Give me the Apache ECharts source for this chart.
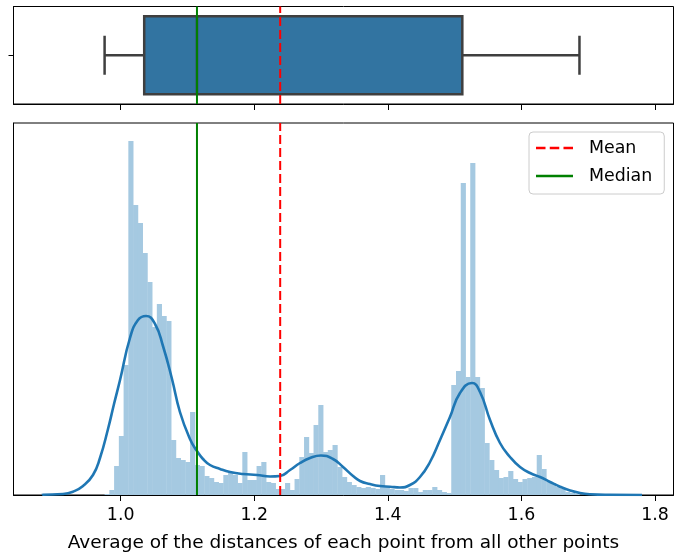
<!DOCTYPE html>
<html>
<head>
<meta charset="utf-8">
<script src="https://cdn.jsdelivr.net/npm/echarts@6.0.0/dist/echarts.min.js"></script>
<style>
	html, body { margin: 0; padding: 0; background: #fff; }
	#chart { width: 684px; height: 552px; }
</style>
</head>
<body>
<div id="chart"></div>
<script>
// summary of the distances (box plot)
var dataMin = 0.9759;
var dataMax = 1.6869;
var q1 = 1.0352;
var q3 = 1.5115;
var median = 1.1142;
var mean = 1.2388;

// histogram, 100 equal bins from dataMin to dataMax (relative density)
var histHeights = [
	1, 5, 29, 59, 130, 354, 290, 272, 242, 213,
	168, 191, 179, 174, 55, 37, 35, 33, 83, 30,
	29, 19, 17, 13, 12, 20, 22, 20, 12, 43,
	15, 15, 29, 33, 13, 12, 6, 6, 12, 5,
	16, 38, 58, 42, 70, 90, 43, 45, 50, 28,
	18, 13, 10, 8, 7, 8, 7, 6, 20, 8,
	6, 5, 5, 4, 7, 7, 3, 5, 5, 8,
	5, 3, 2, 110, 124, 312, 118, 332, 118, 107,
	52, 35, 25, 17, 18, 24, 16, 13, 16, 17,
	18, 40, 26, 13, 12, 8, 6, 3, 2, 1
];

// kde curve (same scale as the histogram)
var kdeX = [0.8822, 0.8837, 0.9136, 0.9286, 0.9436, 0.9585, 0.9690, 0.9810, 0.9900, 0.9990,
	1.0139, 1.0259, 1.0379, 1.0514, 1.0633, 1.0768, 1.0887, 1.1037, 1.1142, 1.1232,
	1.1337, 1.1487, 1.1637, 1.1831, 1.2041, 1.2236, 1.2385, 1.2535, 1.2685, 1.2835,
	1.2999, 1.3179, 1.3329, 1.3479, 1.3583, 1.3733, 1.3882, 1.4032, 1.4182, 1.4331,
	1.4481, 1.4631, 1.4781, 1.4930, 1.5080, 1.5260, 1.5380, 1.5530, 1.5679, 1.5829,
	1.5979, 1.6129, 1.6279, 1.6429, 1.6578, 1.6728, 1.6878, 1.7028, 1.7327, 1.7806];
var kdeY = [0, 0.3, 1, 3.3, 9, 20, 37, 66, 91, 115,
	157, 175, 179, 171, 149, 116, 83, 56, 44, 36,
	30, 26, 23, 21, 20, 18.5, 19, 25, 32, 37,
	39.5, 36, 28, 19, 14, 11, 9, 8.3, 7.5, 10,
	18, 33, 55, 78, 102, 112, 103, 75, 52, 38,
	28, 22, 18, 13, 8.3, 4.5, 2, 0.8, 0.2, 0];

var xTicks = [1.0, 1.2, 1.4, 1.6, 1.8];
var xRange = [0.8395, 1.8277];
var yMax = 372;

var font = 'DejaVu Sans';
var binW = (dataMax - dataMin) / histHeights.length;
var histData = histHeights.map(function (h, i) {
	return [dataMin + i * binW, dataMin + (i + 1) * binW, h];
});
var kdeData = kdeX.map(function (x, i) {
	return [x, kdeY[i]];
});

var myChart = echarts.init(document.getElementById('chart'));

function xAxisBase(gridIndex) {
	return {
		type: 'value',
		gridIndex: gridIndex,
		min: xRange[0],
		max: xRange[1],
		splitLine: { show: false },
		axisLine: { show: true, lineStyle: { color: '#000', width: 1 } },
		axisTick: { show: true, length: 6, customValues: xTicks, lineStyle: { color: '#000' } },
		axisLabel: { show: false }
	};
}

var bottomX = xAxisBase(1);
bottomX.axisLabel = {
	show: true,
	customValues: xTicks,
	margin: 12,
	color: '#000',
	fontFamily: font,
	fontSize: 17.4,
	formatter: function (v) { return v.toFixed(1); }
};
bottomX.name = 'Average of the distances of each point from all other points';
bottomX.nameLocation = 'middle';
bottomX.nameGap = 39;
bottomX.nameTextStyle = { color: '#000', fontFamily: font, fontSize: 18.5 };

var option = {
	animation: false,
	backgroundColor: '#fff',
	grid: [
		{ left: 13.5, right: 10.5, top: 6.5, height: 97.5, show: true, borderColor: '#000', borderWidth: 1, outerBoundsMode: 'none', containLabel: false },
		{ left: 13.5, right: 10.5, top: 123, height: 372, show: true, borderColor: '#000', borderWidth: 1, outerBoundsMode: 'none', containLabel: false }
	],
	xAxis: [xAxisBase(0), bottomX],
	yAxis: [
		{
			type: 'value', gridIndex: 0, min: 0, max: 1,
			splitLine: { show: false },
			axisLine: { show: true, lineStyle: { color: '#000' } },
			axisTick: { show: true, length: 5, customValues: [0.5], lineStyle: { color: '#000' } },
			axisLabel: { show: false }
		},
		{
			type: 'value', gridIndex: 1, min: 0, max: yMax,
			splitLine: { show: false },
			axisLine: { show: true, lineStyle: { color: '#000' } },
			axisTick: { show: false },
			axisLabel: { show: false }
		}
	],
	legend: {
		data: [
			{ name: 'Mean', icon: 'path://M0,0H9V1H0ZM13,0H22V1H13ZM26,0H35V1H26Z', itemStyle: { color: '#ff0000' } },
			{ name: 'Median', icon: 'rect', itemStyle: { color: '#008000' } }
		],
		orient: 'vertical',
		align: 'left',
		left: 529,
		top: 132,
		itemWidth: 37,
		itemHeight: 2.5,
		itemGap: 8,
		symbolKeepAspect: false,
		padding: [6, 12, 8, 7],
		borderColor: '#cccccc',
		borderWidth: 1,
		borderRadius: 4,
		backgroundColor: '#fff',
		selectedMode: false,
		itemStyle: { borderWidth: 0 },
		textStyle: { color: '#000', fontFamily: font, fontSize: 17.4, lineHeight: 20, padding: [0, 0, 0, 11] }
	},
	series: [
		{
			name: 'box',
			type: 'custom',
			xAxisIndex: 0,
			yAxisIndex: 0,
			silent: true,
			z: 2,
			encode: { x: [0, 1, 2, 3, 4] },
			data: [[dataMin, q1, median, q3, dataMax]],
			renderItem: function (params, api) {
				var lo = api.value(0), a = api.value(1), md = api.value(2), b = api.value(3), hi = api.value(4);
				var tl = api.coord([a, 0.9]);
				var br = api.coord([b, 0.1]);
				var stroke = { stroke: '#3f3f3f', lineWidth: 2.5 };
				function seg(x1, y1, x2, y2) {
					var p = api.coord([x1, y1]), q = api.coord([x2, y2]);
					return { type: 'line', shape: { x1: p[0], y1: p[1], x2: q[0], y2: q[1] }, style: stroke };
				}
				return {
					type: 'group',
					children: [
						seg(lo, 0.5, a, 0.5),
						seg(b, 0.5, hi, 0.5),
						seg(lo, 0.3, lo, 0.7),
						seg(hi, 0.3, hi, 0.7),
						{
							type: 'rect',
							shape: { x: tl[0], y: tl[1], width: br[0] - tl[0], height: br[1] - tl[1] },
							style: { fill: '#3274a1', stroke: '#3f3f3f', lineWidth: 2.5 }
						},
						seg(md, 0.1, md, 0.9)
					]
				};
			}
		},
		{
			name: 'hist',
			type: 'custom',
			xAxisIndex: 1,
			yAxisIndex: 1,
			silent: true,
			z: 2,
			encode: { x: [0, 1], y: 2 },
			data: histData,
			renderItem: function (params, api) {
				var p0 = api.coord([api.value(0), api.value(2)]);
				var p1 = api.coord([api.value(1), 0]);
				return {
					type: 'rect',
					shape: { x: p0[0], y: p0[1], width: p1[0] - p0[0] + 0.4, height: p1[1] - p0[1] },
					style: { fill: '#a5c9e1' }
				};
			}
		},
		{
			name: 'kde',
			type: 'line',
			xAxisIndex: 1,
			yAxisIndex: 1,
			data: kdeData,
			smooth: 0.5,
			symbol: 'none',
			silent: true,
			z: 3,
			lineStyle: { color: '#1f77b4', width: 2.6 }
		},
		{
			name: 'Mean',
			type: 'line',
			xAxisIndex: 1,
			yAxisIndex: 1,
			data: [[mean, 0], [mean, yMax]],
			symbol: 'none',
			z: 4,
			itemStyle: { color: '#ff0000' },
			lineStyle: { color: '#ff0000', width: 2, type: [9, 4] }
		},
		{
			name: 'Median',
			type: 'line',
			xAxisIndex: 1,
			yAxisIndex: 1,
			data: [[median, 0], [median, yMax]],
			symbol: 'none',
			z: 4,
			itemStyle: { color: '#008000' },
			lineStyle: { color: '#008000', width: 2 }
		},
		{
			name: 'Mean',
			type: 'line',
			xAxisIndex: 0,
			yAxisIndex: 0,
			data: [[mean, 0], [mean, 1]],
			symbol: 'none',
			z: 4,
			itemStyle: { color: '#ff0000' },
			lineStyle: { color: '#ff0000', width: 2, type: [9, 4] }
		},
		{
			name: 'Median',
			type: 'line',
			xAxisIndex: 0,
			yAxisIndex: 0,
			data: [[median, 0], [median, 1]],
			symbol: 'none',
			z: 4,
			itemStyle: { color: '#008000' },
			lineStyle: { color: '#008000', width: 2 }
		}
	]
};

myChart.setOption(option);
window.addEventListener('resize', myChart.resize);
</script>
</body>
</html>
